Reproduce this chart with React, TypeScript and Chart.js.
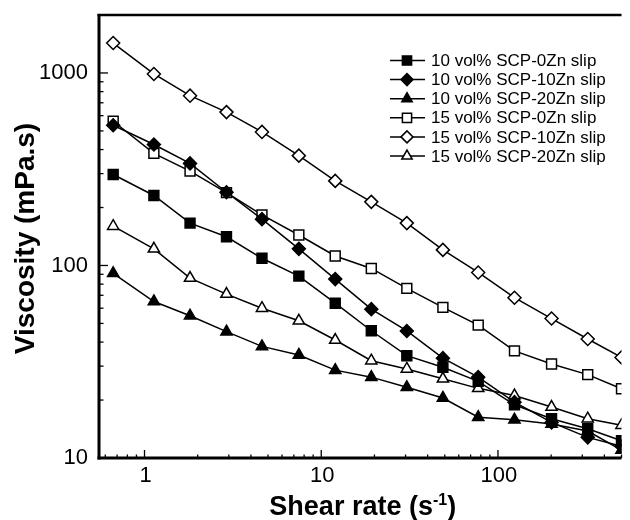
import React, { useEffect, useRef } from 'react';
import { Chart, registerables } from 'chart.js';

Chart.register(...registerables);

// ---- data ----
const shearRate = [0.665, 1.13, 1.81, 2.91, 4.62, 7.47, 12.0, 19.2, 30.5, 48.8, 77.3, 124, 201, 322, 500];

const vis10_0Zn = [297, 231, 166, 141, 109, 88, 63.7, 45.8, 34, 29.6, 25, 18.9, 16, 14.2, 12.3];
const vis10_10Zn = [535, 425, 339, 240, 174, 122, 85, 59.3, 45.7, 33, 26.3, 19.5, 15.3, 12.8, 11.5];
const vis10_20Zn = [91, 65, 54.8, 45.3, 38, 34.3, 28.6, 26.3, 23.3, 20.5, 16.3, 15.8, 15, 13.8, 11];
const vis15_0Zn = [561, 382, 309, 239, 183, 144, 112, 96.5, 76, 60.6, 49, 36, 30.8, 27.1, 22.9];
const vis15_10Zn = [1430, 988, 762, 626, 494, 372, 275, 214, 166, 120.5, 92, 68, 53, 41.5, 33.3];
const vis15_20Zn = [160, 122, 86, 71, 60, 51.6, 41, 32, 29, 25.8, 23, 21.1, 18.4, 16, 14.8];

const seriesLabels = [
  '10 vol% SCP-0Zn slip',
  '10 vol% SCP-10Zn slip',
  '10 vol% SCP-20Zn slip',
  '15 vol% SCP-0Zn slip',
  '15 vol% SCP-10Zn slip',
  '15 vol% SCP-20Zn slip',
];
const seriesValues = [vis10_0Zn, vis10_10Zn, vis10_20Zn, vis15_0Zn, vis15_10Zn, vis15_20Zn];
const seriesShapes = ['rect', 'rectRot', 'triangle', 'rect', 'rectRot', 'triangle'];
const seriesFilled = [true, true, true, false, false, false];

const xTickLabels = [1, 10, 100];
const yTickLabels = [10, 100, 1000];

const xTitle = 'Shear rate (s';
const xTitleSup = '-1';
const yTitle = 'Viscosity (mPa.s)';

const FONT = '"Liberation Sans", Arial, Helvetica, sans-serif';

function markerRadius(shape: string) {
  if (shape === 'rect') return 7;
  return 6.5;
}

function drawMarker(ctx: CanvasRenderingContext2D, shape: string, x: number, y: number, r: number, filled: boolean) {
  ctx.beginPath();
  if (shape === 'rect') {
    const s = Math.SQRT1_2 * r;
    ctx.rect(x - s, y - s, 2 * s, 2 * s);
  } else if (shape === 'rectRot') {
    ctx.moveTo(x - r, y);
    ctx.lineTo(x, y - r);
    ctx.lineTo(x + r, y);
    ctx.lineTo(x, y + r);
    ctx.closePath();
  } else {
    const h = r * Math.sqrt(3) / 2;
    ctx.moveTo(x, y - r);
    ctx.lineTo(x + h, y + r / 2);
    ctx.lineTo(x - h, y + r / 2);
    ctx.closePath();
  }
  ctx.fillStyle = filled ? '#000' : '#fff';
  ctx.fill();
  ctx.lineWidth = 1.5;
  ctx.strokeStyle = '#000';
  ctx.stroke();
}

const framePlugin = {
  id: 'frame',
  afterDraw(chart: any) {
    const { ctx, chartArea: a, scales } = chart;
    const xs = scales.x;
    const ys = scales.y;
    ctx.save();
    ctx.strokeStyle = '#000';
    ctx.fillStyle = '#000';

    const line = (x1: number, y1: number, x2: number, y2: number) => {
      ctx.beginPath();
      ctx.moveTo(x1, y1);
      ctx.lineTo(x2, y2);
      ctx.stroke();
    };

    // ticks (inward)
    ctx.lineWidth = 1.3;
    for (let e = -1; e <= 3; e++) {
      for (let m = 1; m <= 9; m++) {
        const v = m * Math.pow(10, e);
        if (v >= xs.min && v <= xs.max) {
          const px = xs.getPixelForValue(v);
          line(px, a.bottom, px, a.bottom - (m === 1 ? 8 : 3.5));
        }
        if (v >= ys.min && v <= ys.max) {
          const py = ys.getPixelForValue(v);
          line(a.left, py, a.left + (m === 1 ? 8 : 3.5), py);
        }
      }
    }

    // axis lines
    ctx.lineWidth = 3;
    line(a.left - 1, a.top - 1, a.left - 1, a.bottom + 1.5);
    line(a.left - 2.5, a.bottom, a.right, a.bottom);
    ctx.lineWidth = 2.5;
    line(a.left - 2.5, a.top, a.right, a.top);

    // tick labels
    ctx.font = `22px ${FONT}`;
    ctx.textAlign = 'right';
    ctx.textBaseline = 'middle';
    for (const v of yTickLabels) {
      ctx.fillText(String(v), a.left - 12, ys.getPixelForValue(v));
    }
    ctx.textAlign = 'center';
    for (const v of xTickLabels) {
      ctx.fillText(String(v), xs.getPixelForValue(v) + 1, a.bottom + 18);
    }

    // x title
    const cx = (a.left + a.right) / 2;
    ctx.textBaseline = 'alphabetic';
    ctx.textAlign = 'left';
    const bold = `bold 27px ${FONT}`;
    const supFont = `bold 16px ${FONT}`;
    ctx.font = bold;
    const w1 = ctx.measureText(xTitle).width;
    const w3 = ctx.measureText(')').width;
    ctx.font = supFont;
    const w2 = ctx.measureText(xTitleSup).width;
    let tx = cx - (w1 + w2 + w3) / 2 + 2;
    const base = 515;
    ctx.font = bold;
    ctx.fillText(xTitle, tx, base);
    tx += w1;
    ctx.font = supFont;
    ctx.fillText(xTitleSup, tx, base - 10);
    tx += w2;
    ctx.font = bold;
    ctx.fillText(')', tx, base);

    // y title
    ctx.save();
    ctx.translate(26, (a.top + a.bottom) / 2 + 2);
    ctx.rotate(-Math.PI / 2);
    ctx.textAlign = 'center';
    ctx.textBaseline = 'middle';
    ctx.font = `bold 28px ${FONT}`;
    ctx.fillText(yTitle, 0, 0);
    ctx.restore();

    // legend
    const lx1 = 390, lx2 = 425, mx = 407, tx0 = 431;
    let ly = 60.5;
    ctx.font = `17px ${FONT}`;
    ctx.textAlign = 'left';
    ctx.textBaseline = 'middle';
    chart.data.datasets.forEach((ds: any, i: number) => {
      ctx.strokeStyle = '#000';
      ctx.lineWidth = 1.5;
      line(lx1, ly, lx2, ly);
      drawMarker(ctx, seriesShapes[i], mx, ly, markerRadius(seriesShapes[i]) - 0.5, seriesFilled[i]);
      ctx.fillStyle = '#000';
      ctx.fillText(ds.label, tx0, ly + 1);
      ly += 19.1;
    });

    ctx.restore();
  },
};

export default function App() {
  const ref = useRef<HTMLCanvasElement | null>(null);

  useEffect(() => {
    if (!ref.current) return;
    const datasets = seriesLabels.map((label, i) => ({
      label,
      data: shearRate.map((x, j) => ({ x, y: seriesValues[i][j] })),
      borderColor: '#000',
      borderWidth: 1.5,
      pointStyle: seriesShapes[i],
      pointRadius: markerRadius(seriesShapes[i]),
      pointHoverRadius: markerRadius(seriesShapes[i]),
      pointBackgroundColor: seriesFilled[i] ? '#000' : '#fff',
      pointBorderColor: '#000',
      pointBorderWidth: 1.5,
      tension: 0,
      fill: false,
    }));
    const chart = new Chart(ref.current, {
      type: 'line',
      data: { datasets },
      plugins: [framePlugin],
      options: {
        responsive: false,
        animation: false,
        devicePixelRatio: 1,
        layout: { padding: { top: 15, right: 0, bottom: 0, left: 0 } },
        plugins: { legend: { display: false }, tooltip: { enabled: false } },
        scales: {
          x: {
            type: 'logarithmic',
            min: 0.56,
            max: 500,
            grid: { display: false },
            border: { display: false },
            ticks: { display: false },
            afterFit: (s: any) => { s.height = 62; },
          },
          y: {
            type: 'logarithmic',
            min: 10,
            max: 2000,
            grid: { display: false },
            border: { display: false },
            ticks: { display: false },
            afterFit: (s: any) => { s.width = 100; },
          },
        },
      } as any,
    });
    return () => chart.destroy();
  }, []);

  return (
    <div style={{ position: 'fixed', left: 0, top: 0, width: 630, height: 520, background: '#fff' }}>
      <canvas ref={ref} width={630} height={520} style={{ display: 'block' }} />
    </div>
  );
}
